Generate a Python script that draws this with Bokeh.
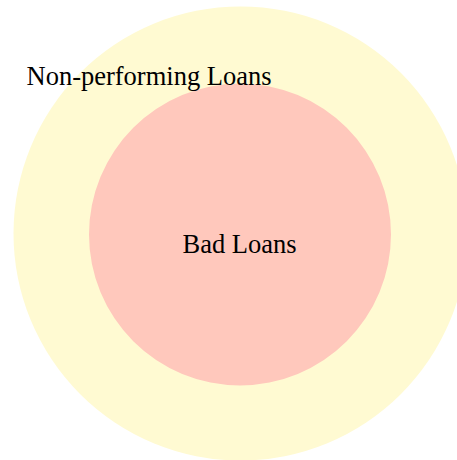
from bokeh.plotting import figure
from bokeh.models import Range1d, ColumnDataSource
from bokeh.core.properties import value
from bokeh.embed import file_html
from bokeh.resources import INLINE

# Data: nested sets (outer = Non-performing Loans, inner = Bad Loans)
labels = ["Non-performing Loans", "Bad Loans"]
radii = [227, 151]
colors = ["#fffad2", "#ffc8bc"]
center_x = [240, 239.5]
center_y = [227, 226]
label_x = [26, 239]
label_y = [385, 217]
label_align = ["left", "center"]

W, H = 457, 460
p = figure(width=W, height=H, output_backend="svg", toolbar_location=None,
           x_range=Range1d(0, W), y_range=Range1d(0, H),
           x_axis_type=None, y_axis_type=None, min_border=0)
p.outline_line_color = None
p.background_fill_color = "white"
p.border_fill_color = "white"

src = ColumnDataSource(dict(x=center_x, y=center_y, r=radii, c=colors))
p.circle(x="x", y="y", radius="r", fill_color="c", line_color=None, source=src)

tsrc = ColumnDataSource(dict(x=label_x, y=label_y, t=labels, a=label_align))
p.text(x="x", y="y", text="t", text_align="a", text_baseline="alphabetic",
       text_font=value("Liberation Serif"), text_font_size="26.5px",
       text_color="black", source=tsrc)

open("out.html", "w").write(file_html(p, INLINE))
